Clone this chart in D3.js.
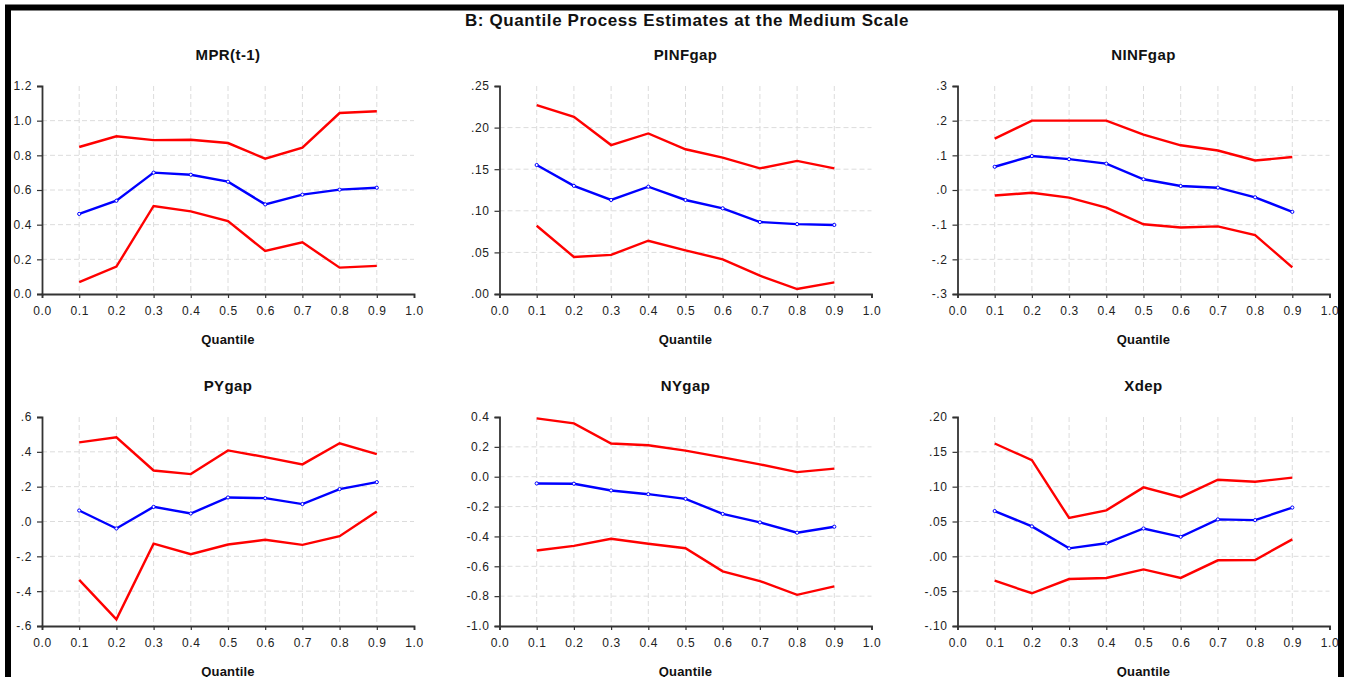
<!DOCTYPE html>
<html>
<head>
<meta charset="utf-8">
<script src="https://cdn.jsdelivr.net/npm/d3@7/dist/d3.min.js"></script>
<style>
  body { margin: 0; background: #fff; }
  svg { display: block; }
  text { font-family: "Liberation Sans", Arial, sans-serif; }
</style>
</head>
<body>
<svg id="chart" width="1351" height="677"></svg>
<script>
// Quantile process estimates (medium scale): estimate + upper/lower bands
const quantiles = [0.1, 0.2, 0.3, 0.4, 0.5, 0.6, 0.7, 0.8, 0.9];
const xTicks = [0, 0.1, 0.2, 0.3, 0.4, 0.5, 0.6, 0.7, 0.8, 0.9, 1.0];

const panelTitles = ['MPR(t-1)', 'PINFgap', 'NINFgap', 'PYgap', 'NYgap', 'Xdep'];

const mprUpper = [0.848, 0.910, 0.888, 0.890, 0.871, 0.781, 0.844, 1.044, 1.054];
const mprEst   = [0.462, 0.538, 0.700, 0.688, 0.648, 0.517, 0.573, 0.602, 0.613];
const mprLower = [0.069, 0.158, 0.508, 0.477, 0.421, 0.248, 0.298, 0.152, 0.162];

const pinfUpper = [0.227, 0.213, 0.179, 0.193, 0.174, 0.164, 0.151, 0.160, 0.151];
const pinfEst   = [0.155, 0.130, 0.113, 0.129, 0.113, 0.103, 0.0865, 0.084, 0.083];
const pinfLower = [0.082, 0.0445, 0.047, 0.064, 0.0525, 0.0417, 0.022, 0.006, 0.014];

const ninfUpper = [0.148, 0.200, 0.200, 0.200, 0.160, 0.129, 0.114, 0.085, 0.095];
const ninfEst   = [0.067, 0.098, 0.089, 0.076, 0.031, 0.0115, 0.0067, -0.021, -0.063];
const ninfLower = [-0.016, -0.008, -0.022, -0.051, -0.099, -0.108, -0.105, -0.130, -0.223];

const pyUpper = [0.454, 0.483, 0.293, 0.272, 0.408, 0.370, 0.328, 0.449, 0.387];
const pyEst   = [0.063, -0.040, 0.084, 0.046, 0.138, 0.134, 0.100, 0.186, 0.226];
const pyLower = [-0.335, -0.562, -0.127, -0.188, -0.132, -0.105, -0.134, -0.084, 0.058];

const nyUpper = [0.391, 0.357, 0.222, 0.211, 0.175, 0.130, 0.083, 0.031, 0.054];
const nyEst   = [-0.045, -0.047, -0.092, -0.117, -0.148, -0.249, -0.306, -0.375, -0.335];
const nyLower = [-0.494, -0.463, -0.416, -0.449, -0.479, -0.634, -0.699, -0.791, -0.735];

const xdepUpper = [0.162, 0.138, 0.055, 0.066, 0.099, 0.085, 0.110, 0.107, 0.113];
const xdepEst   = [0.065, 0.043, 0.0115, 0.0187, 0.040, 0.028, 0.053, 0.052, 0.070];
const xdepLower = [-0.035, -0.053, -0.0326, -0.031, -0.0187, -0.031, -0.0057, -0.0053, 0.0244];

const mprTicks  = [0, 0.2, 0.4, 0.6, 0.8, 1.0, 1.2];
const mprLabels = ['0.0', '0.2', '0.4', '0.6', '0.8', '1.0', '1.2'];
const pinfTicks  = [0, 0.05, 0.10, 0.15, 0.20, 0.25];
const pinfLabels = ['.00', '.05', '.10', '.15', '.20', '.25'];
const ninfTicks  = [-0.3, -0.2, -0.1, 0, 0.1, 0.2, 0.3];
const ninfLabels = ['-.3', '-.2', '-.1', '.0', '.1', '.2', '.3'];
const pyTicks  = [-0.6, -0.4, -0.2, 0, 0.2, 0.4, 0.6];
const pyLabels = ['-.6', '-.4', '-.2', '.0', '.2', '.4', '.6'];
const nyTicks  = [-1.0, -0.8, -0.6, -0.4, -0.2, 0, 0.2, 0.4];
const nyLabels = ['-1.0', '-0.8', '-0.6', '-0.4', '-0.2', '0.0', '0.2', '0.4'];
const xdepTicks  = [-0.10, -0.05, 0, 0.05, 0.10, 0.15, 0.20];
const xdepLabels = ['-.10', '-.05', '.00', '.05', '.10', '.15', '.20'];

const panels = [
    { title: panelTitles[0], upper: mprUpper, est: mprEst, lower: mprLower, ticks: mprTicks, labels: mprLabels },
    { title: panelTitles[1], upper: pinfUpper, est: pinfEst, lower: pinfLower, ticks: pinfTicks, labels: pinfLabels },
    { title: panelTitles[2], upper: ninfUpper, est: ninfEst, lower: ninfLower, ticks: ninfTicks, labels: ninfLabels },
    { title: panelTitles[3], upper: pyUpper, est: pyEst, lower: pyLower, ticks: pyTicks, labels: pyLabels },
    { title: panelTitles[4], upper: nyUpper, est: nyEst, lower: nyLower, ticks: nyTicks, labels: nyLabels },
    { title: panelTitles[5], upper: xdepUpper, est: xdepEst, lower: xdepLower, ticks: xdepTicks, labels: xdepLabels }
];

// plot-area placement
const colLeft = [42, 499.5, 957.5];
const rowTop = [86, 417];
const plotW = 372;
const plotH = [208, 209];

const svg = d3.select('#chart');

svg.append('text')
    .attr('x', 687).attr('y', 26)
    .attr('text-anchor', 'middle')
    .attr('font-size', 17).attr('font-weight', 700).attr('letter-spacing', 0.6)
    .attr('fill', '#111')
    .text('B: Quantile Process Estimates at the Medium Scale');

panels.forEach((p, i) => {
    const col = i % 3, row = Math.floor(i / 3);
    const left = colLeft[col], top = rowTop[row], h = plotH[row];
    const g = svg.append('g').attr('transform', `translate(${left},${top})`);

    const x = d3.scaleLinear().domain([0, 1]).range([0, plotW]);
    const y = d3.scaleLinear().domain(d3.extent(p.ticks)).range([h, 0]);

    // gridlines
    for (const t of p.ticks.slice(1, -1)) {
        g.append('line')
            .attr('x1', 0).attr('x2', plotW).attr('y1', y(t)).attr('y2', y(t))
            .attr('stroke', '#dcdcdc').attr('stroke-width', 1).attr('stroke-dasharray', '5,3');
    }
    for (const q of quantiles) {
        g.append('line')
            .attr('x1', x(q)).attr('x2', x(q)).attr('y1', 0).attr('y2', h)
            .attr('stroke', '#dcdcdc').attr('stroke-width', 1).attr('stroke-dasharray', '5,3');
    }

    // axes
    const yAxis = d3.axisLeft(y).tickValues(p.ticks)
        .tickFormat((d, k) => p.labels[k]).tickSize(5).tickPadding(5);
    const yg = g.append('g').call(yAxis);
    const xAxis = d3.axisBottom(x).tickValues(xTicks)
        .tickFormat(d3.format('.1f')).tickSize(4).tickPadding(8);
    const xg = g.append('g').attr('transform', `translate(0,${h})`).call(xAxis);

    for (const ax of [yg, xg]) {
        ax.select('.domain').attr('stroke', '#333').attr('stroke-width', 1.8);
        ax.selectAll('.tick line').attr('stroke', '#333').attr('stroke-width', 1.2);
        ax.selectAll('.tick text')
            .attr('font-family', '"Liberation Sans", Arial, sans-serif')
            .attr('font-size', 12).attr('letter-spacing', 0.6).attr('fill', '#222');
    }

    // series
    const line = d3.line().x((d, k) => x(quantiles[k])).y(d => y(d));
    g.append('path').datum(p.upper).attr('d', line)
        .attr('fill', 'none').attr('stroke', '#ff0000').attr('stroke-width', 2.4);
    g.append('path').datum(p.lower).attr('d', line)
        .attr('fill', 'none').attr('stroke', '#ff0000').attr('stroke-width', 2.4);
    g.append('path').datum(p.est).attr('d', line)
        .attr('fill', 'none').attr('stroke', '#0000ff').attr('stroke-width', 2.4);
    g.selectAll('circle.pt').data(p.est).enter().append('circle')
        .attr('cx', (d, k) => x(quantiles[k])).attr('cy', d => y(d))
        .attr('r', 1.6).attr('fill', '#fff').attr('stroke', '#0000ff').attr('stroke-width', 1);

    // titles
    g.append('text')
        .attr('x', plotW / 2).attr('y', -26)
        .attr('text-anchor', 'middle')
        .attr('font-size', 15).attr('font-weight', 700).attr('letter-spacing', 0.4)
        .attr('fill', '#111')
        .text(p.title);
    g.append('text')
        .attr('x', plotW / 2).attr('y', h + 50)
        .attr('text-anchor', 'middle')
        .attr('font-size', 13).attr('font-weight', 700).attr('letter-spacing', 0.2)
        .attr('fill', '#111')
        .text('Quantile');
});

// outer frame drawn last so it clips labels at the edge
svg.append('rect')
    .attr('x', 8).attr('y', 7.5).attr('width', 1333).attr('height', 680)
    .attr('fill', 'none').attr('stroke', '#000').attr('stroke-width', 6);
svg.append('rect')
    .attr('x', 1344).attr('y', 0).attr('width', 7).attr('height', 677).attr('fill', '#fff');
</script>
</body>
</html>
